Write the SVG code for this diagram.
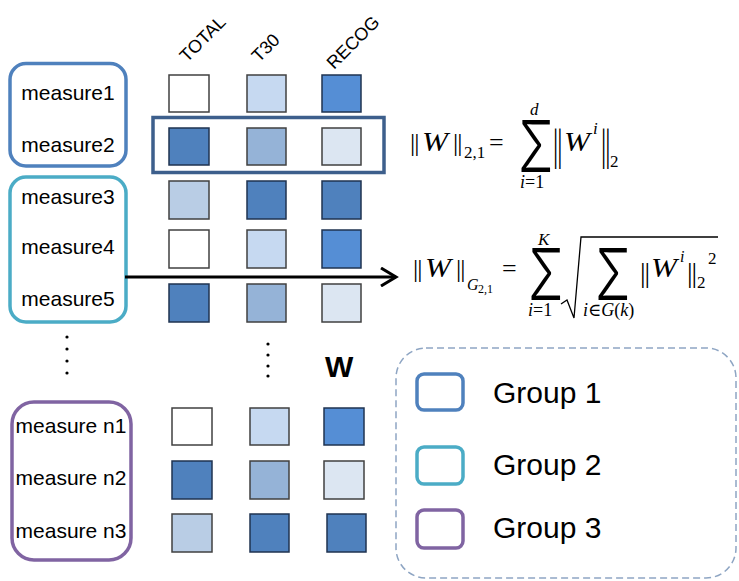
<svg xmlns="http://www.w3.org/2000/svg" width="739" height="581" viewBox="0 0 739 581">
<defs>
<style>
.lbl{font-family:"Liberation Sans",Arial,sans-serif;font-size:21px;fill:#000;text-anchor:middle}
.hdr{font-family:"Liberation Sans",Arial,sans-serif;font-size:18px;fill:#000}
.sq{stroke:#404040;stroke-width:1.5}
.dk{stroke:#1f3350;stroke-width:1.5}
.c0{fill:#ffffff}.c1{fill:#c6d9f1}.c2{fill:#558ed5}.c3{fill:#4f81bd}.c4{fill:#95b3d7}.c5{fill:#dce6f2}.c6{fill:#b9cde5}
.g1{fill:none;stroke:#4f81bd;stroke-width:3.5}
.g2{fill:none;stroke:#4bacc6;stroke-width:3.5}
.g3{fill:none;stroke:#8064a2;stroke-width:3.5}
.m{font-family:"Liberation Serif","DejaVu Serif",serif;fill:#000}
.it{font-style:italic}
.sig{font-family:Inter,"Liberation Sans",sans-serif;font-weight:300;fill:#000}
.leg{font-family:"Liberation Sans",Arial,sans-serif;font-size:30px;fill:#000}
</style>
<marker id="ah" viewBox="0 0 20 20" refX="17" refY="10" markerWidth="20" markerHeight="20" markerUnits="userSpaceOnUse" orient="auto">
<path d="M2,1 L17,10 L2,19" fill="none" stroke="#000" stroke-width="3"/>
</marker>
</defs>
<rect width="739" height="581" fill="#fff"/>

<g id="headers">
<text class="hdr" x="187" y="63" transform="rotate(-45 187 63)">TOTAL</text>
<text class="hdr" x="259" y="63" transform="rotate(-45 259 63)">T30</text>
<text class="hdr" x="334" y="70" transform="rotate(-45 334 70)">RECOG</text>
</g>

<g id="group1">
<rect class="g1" x="10" y="63.5" width="116" height="102.5" rx="16"/>
<text class="lbl" x="68" y="100">measure1</text>
<text class="lbl" x="68" y="152">measure2</text>
</g>
<g id="group2">
<rect class="g2" x="10" y="177" width="116" height="145" rx="16"/>
<text class="lbl" x="68" y="204">measure3</text>
<text class="lbl" x="68" y="254">measure4</text>
<text class="lbl" x="68" y="306">measure5</text>
</g>
<g id="group3">
<rect class="g3" x="12" y="402" width="119" height="158" rx="22"/>
<text class="lbl" x="71" y="433">measure n1</text>
<text class="lbl" x="71" y="485">measure n2</text>
<text class="lbl" x="71" y="538">measure n3</text>
</g>

<g id="dots">
<circle cx="67" cy="337" r="1.6"/><circle cx="67" cy="349" r="1.6"/><circle cx="67" cy="361" r="1.6"/><circle cx="67" cy="373" r="1.6"/>
<circle cx="268" cy="344" r="1.6"/><circle cx="268" cy="355" r="1.6"/><circle cx="268" cy="366" r="1.6"/><circle cx="268" cy="376" r="1.6"/>
</g>

<g id="matrix">
<rect class="sq c0" x="169" y="75" width="40" height="37"/>
<rect class="sq c1" x="247" y="75" width="39" height="37"/>
<rect class="dk c2" x="322" y="75" width="39" height="37"/>
<rect class="dk c3" x="169" y="128" width="40" height="37"/>
<rect class="sq c4" x="247" y="128" width="39" height="37"/>
<rect class="sq c5" x="322" y="128" width="39" height="37"/>
<rect class="sq c6" x="169" y="181" width="40" height="38"/>
<rect class="dk c3" x="247" y="181" width="39" height="38"/>
<rect class="dk c3" x="322" y="181" width="39" height="38"/>
<rect class="sq c0" x="169" y="230" width="40" height="38"/>
<rect class="sq c1" x="247" y="230" width="39" height="38"/>
<rect class="dk c2" x="322" y="230" width="39" height="38"/>
<rect class="dk c3" x="169" y="284" width="40" height="38"/>
<rect class="sq c4" x="247" y="284" width="39" height="38"/>
<rect class="sq c5" x="322" y="284" width="39" height="38"/>
<rect class="sq c0" x="172" y="408" width="40" height="37"/>
<rect class="sq c1" x="250" y="408" width="39" height="37"/>
<rect class="dk c2" x="324" y="408" width="40" height="37"/>
<rect class="dk c3" x="172" y="461" width="40" height="38"/>
<rect class="sq c4" x="250" y="461" width="39" height="38"/>
<rect class="sq c5" x="324" y="461" width="40" height="38"/>
<rect class="sq c6" x="172" y="514" width="40" height="38"/>
<rect class="dk c3" x="250" y="514" width="39" height="38"/>
<rect class="dk c3" x="327" y="514" width="39" height="38"/>
<text x="325" y="377" style="font-family:'Liberation Sans',Arial,sans-serif;font-size:30px;font-weight:bold">W</text>
</g>

<g id="highlight">
<rect x="153" y="117.5" width="231" height="55" fill="none" stroke="#3d5f8c" stroke-width="3.5"/>
</g>

<g id="connectors">
<line x1="125" y1="277" x2="396" y2="277" stroke="#000" stroke-width="3" marker-end="url(#ah)"/>
</g>

<g id="formula1">
<text class="m" x="410" y="151" font-size="26" letter-spacing="-1">||</text>
<text class="m it" x="422" y="151" font-size="27" textLength="26" lengthAdjust="spacingAndGlyphs">W</text>
<text class="m" x="453" y="151" font-size="26" letter-spacing="-1">||</text>
<text class="m" x="464" y="158" font-size="17">2,1</text>
<text class="m" x="489" y="151" font-size="26">=</text>
<text class="sig" font-size="72" transform="translate(518,172) scale(0.72,1)">Σ</text>
<text class="m it" x="530" y="115" font-size="17">d</text>
<text class="m" x="520" y="188" font-size="18"><tspan class="it">i</tspan>=1</text>
<text class="m" font-size="26" letter-spacing="-1" transform="translate(553,160) scale(1,1.7)">||</text>
<text class="m it" x="564" y="151" font-size="27" textLength="26" lengthAdjust="spacingAndGlyphs">W</text>
<text class="m it" x="593" y="134" font-size="17">i</text>
<text class="m" font-size="26" letter-spacing="-1" transform="translate(601,160) scale(1,1.7)">||</text>
<text class="m" x="610" y="167" font-size="17">2</text>
</g>

<g id="formula2">
<text class="m" x="413" y="277" font-size="26" letter-spacing="-1">||</text>
<text class="m it" x="425" y="277" font-size="27" textLength="26" lengthAdjust="spacingAndGlyphs">W</text>
<text class="m" x="456" y="277" font-size="26" letter-spacing="-1">||</text>
<text class="m it" x="467" y="290" font-size="16">G</text>
<text class="m" x="478" y="293" font-size="12">2,1</text>
<text class="m" x="502" y="277" font-size="26">=</text>
<text class="sig" font-size="72" transform="translate(528,300) scale(0.72,1)">Σ</text>
<text class="m it" x="538" y="245" font-size="17">K</text>
<text class="m" x="528" y="316" font-size="18"><tspan class="it">i</tspan>=1</text>
<path d="M561,304 L567,300 L574,318 L581,237 L718,237" fill="none" stroke="#000" stroke-width="1.3"/>
<text class="sig" font-size="72" transform="translate(595,300) scale(0.72,1)">Σ</text>
<text class="m it" x="583" y="316" font-size="18">i<tspan font-style="normal">∈</tspan>G<tspan font-style="normal">(</tspan>k<tspan font-style="normal">)</tspan></text>
<text class="m" x="640" y="282" font-size="28" letter-spacing="-1">||</text>
<text class="m it" x="651" y="277" font-size="27" textLength="26" lengthAdjust="spacingAndGlyphs">W</text>
<text class="m it" x="680" y="262" font-size="16">i</text>
<text class="m" x="687" y="282" font-size="28" letter-spacing="-1">||</text>
<text class="m" x="697" y="288" font-size="17">2</text>
<text class="m" x="708" y="264" font-size="17">2</text>
</g>

<g id="legend">
<rect x="396" y="348" width="340" height="230" rx="30" fill="none" stroke="#8ea5c3" stroke-width="1.5" stroke-dasharray="7,4"/>
<rect class="g1" x="417" y="374" width="46" height="36" rx="7"/>
<text class="leg" x="493" y="403">Group 1</text>
<rect class="g2" x="417" y="447" width="46" height="37" rx="7"/>
<text class="leg" x="493" y="475">Group 2</text>
<rect class="g3" x="417" y="510" width="46" height="38" rx="7"/>
<text class="leg" x="493" y="538">Group 3</text>
</g>
</svg>
